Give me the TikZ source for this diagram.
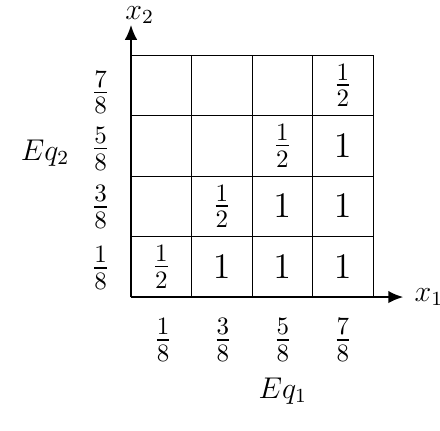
\documentclass[tikz,border=0pt]{standalone}
\usepackage{amsmath,amssymb}
\usepackage{tikz}
\usetikzlibrary{arrows.meta,positioning}

\begin{document}
\begin{tikzpicture}[
    x=24.2pt, y=24.2pt,
    axis/.style={thick, -{Latex[length=6pt,width=5pt]}},
    frac/.style={font=\Large},
    val/.style={font=\Large},
    lbl/.style={font=\large}
]
\useasboundingbox (-2.165,-2.198) rectangle (5.107,4.909);
\coordinate (O) at (0,0);
\coordinate (xend) at (4.5,0);
\coordinate (yend) at (0,4.5);

% Grid of cells
\draw[step=1] (O) grid (4,4);
\draw[axis] (O) -- (xend);
\draw[axis] (O) -- (yend);
\node[lbl, right=1pt of xend] (xone) {$x_1$};
\node[lbl, inner sep=1pt, above=-0.8pt of yend, xshift=3.5pt] (xtwo) {$x_2$};

% Cell values
\node[frac] (c11) at (0.5,0.5) {$\frac{1}{2}$};
\node[val] (c21) at (1.5,0.5) {$1$};
\node[val] (c31) at (2.5,0.5) {$1$};
\node[val] (c41) at (3.5,0.5) {$1$};
\node[frac] (c22) at (1.5,1.5) {$\frac{1}{2}$};
\node[val] (c32) at (2.5,1.5) {$1$};
\node[val] (c42) at (3.5,1.5) {$1$};
\node[frac] (c33) at (2.5,2.5) {$\frac{1}{2}$};
\node[val] (c43) at (3.5,2.5) {$1$};
\node[frac] (c44) at (3.5,3.5) {$\frac{1}{2}$};

% Ticks on x_2
\node[frac] (ya) at (-0.5,0.48) {$\frac{1}{8}$};
\node[frac] (yb) at (-0.5,1.49) {$\frac{3}{8}$};
\node[frac] (yc) at (-0.5,2.45) {$\frac{5}{8}$};
\node[frac] (yd) at (-0.5,3.38) {$\frac{7}{8}$};

% Ticks on x_1
\node[frac] (xa) at (0.53,-0.71) {$\frac{1}{8}$};
\node[frac] (xb) at (1.52,-0.71) {$\frac{3}{8}$};
\node[frac] (xc) at (2.51,-0.71) {$\frac{5}{8}$};
\node[frac] (xd) at (3.5,-0.71) {$\frac{7}{8}$};

\node[lbl] (eqtwo) at (-1.42,2.38) {$Eq_2$};
\node[lbl] (eqone) at (2.51,-1.55) {$Eq_1$};
\end{tikzpicture}
\end{document}
